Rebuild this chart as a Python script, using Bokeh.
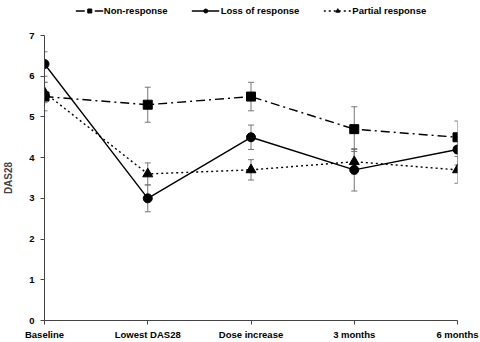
from bokeh.plotting import figure
from bokeh.layouts import column
from bokeh.models import (ColumnDataSource, Whisker, TeeHead, Legend, LegendItem,
                          FixedTicker, Range1d)
from bokeh.embed import file_html
from bokeh.resources import INLINE

categories = ["Baseline", "Lowest DAS28", "Dose increase", "3 months", "6 months"]
non_response = [5.5, 5.3, 5.5, 4.7, 4.5]
non_response_err = [0.35, 0.43, 0.35, 0.55, 0.4]
loss_response = [6.3, 3.0, 4.5, 3.7, 4.2]
loss_response_err = [0.3, 0.33, 0.3, 0.52, 0.38]
partial_response = [5.6, 3.6, 3.7, 3.9, 3.7]
partial_response_err = [0.25, 0.27, 0.25, 0.3, 0.33]
y_ticks = [0, 1, 2, 3, 4, 5, 6, 7]

FONT = "Liberation Sans"
x = list(range(len(categories)))

p = figure(width=480, height=322, output_backend="svg", toolbar_location=None,
           x_range=Range1d(0, 4), y_range=Range1d(0, 7),
           min_border_left=39, min_border_right=23, min_border_top=15, min_border_bottom=19)
p.outline_line_color = None
p.grid.visible = False
p.background_fill_color = "white"

p.xaxis.ticker = FixedTicker(ticks=x)
p.xaxis.major_label_overrides = {i: c for i, c in enumerate(categories)}
p.yaxis.ticker = FixedTicker(ticks=y_ticks)
for ax in (p.xaxis, p.yaxis):
    ax.minor_tick_line_color = None
    ax.major_tick_in = 0
    ax.major_tick_out = 4
    ax.axis_line_color = "#444444"
    ax.major_tick_line_color = "#444444"
    ax.major_label_text_font = FONT
    ax.major_label_text_font_style = "bold"
    ax.major_label_text_font_size = "9.5px"
    ax.major_label_text_color = "black"
p.yaxis.axis_label = "DAS28"
p.yaxis.axis_label_text_font = FONT
p.yaxis.axis_label_text_font_style = "bold"
p.yaxis.axis_label_text_font_size = "10px"
p.yaxis.axis_label_standoff = 12
p.yaxis.major_label_standoff = 6
p.xaxis.major_label_standoff = 4

series = [
    ("Non-response", non_response, non_response_err, "square", "9 4 2 4"),
    ("Loss of response", loss_response, loss_response_err, "circle", "solid"),
    ("Partial response", partial_response, partial_response_err, "triangle", "2 3"),
]

# legend strip drawn as its own small figure above the chart
lg = figure(width=480, height=20, output_backend="svg", toolbar_location=None,
            x_range=Range1d(0, 1), y_range=Range1d(0, 1),
            min_border=0)
lg.axis.visible = False
lg.grid.visible = False
lg.outline_line_color = None

items = []
for name, ys, errs, marker, dash in series:
    src = ColumnDataSource(dict(x=x, y=ys,
                                upper=[a + b for a, b in zip(ys, errs)],
                                lower=[a - b for a, b in zip(ys, errs)]))
    w = Whisker(base="x", upper="upper", lower="lower", source=src,
                line_color="#777777", line_width=1,
                upper_head=TeeHead(size=6, line_color="#777777", line_width=1),
                lower_head=TeeHead(size=6, line_color="#777777", line_width=1))
    p.add_layout(w)
    p.line("x", "y", source=src, line_color="black", line_width=1.4, line_dash=dash)
    size = 9 if marker != "triangle" else 10
    p.scatter("x", "y", source=src, marker=marker, size=size,
              fill_color="black", line_color="black")
    # off-screen proxy glyphs so the legend strip can draw line + marker samples
    proxy = ColumnDataSource(dict(x=[-10, -9], y=[-10, -10]))
    ln = lg.line("x", "y", source=proxy, line_color="black", line_width=1.4, line_dash=dash)
    sc = lg.scatter("x", "y", source=proxy, marker=marker, size=size - 1,
                    fill_color="black", line_color="black")
    items.append(LegendItem(label=name, renderers=[ln, sc]))

legend = Legend(items=items, orientation="horizontal", location="center",
                label_text_font=FONT, label_text_font_style="bold",
                label_text_font_size="9.5px", label_text_color="black",
                glyph_width=28, glyph_height=10,
                spacing=24, padding=1, margin=0, border_line_color=None,
                label_standoff=1, background_fill_alpha=0)
lg.add_layout(legend, "center")

layout = column(lg, p, spacing=0)
open("out.html", "w").write(file_html(layout, INLINE))
